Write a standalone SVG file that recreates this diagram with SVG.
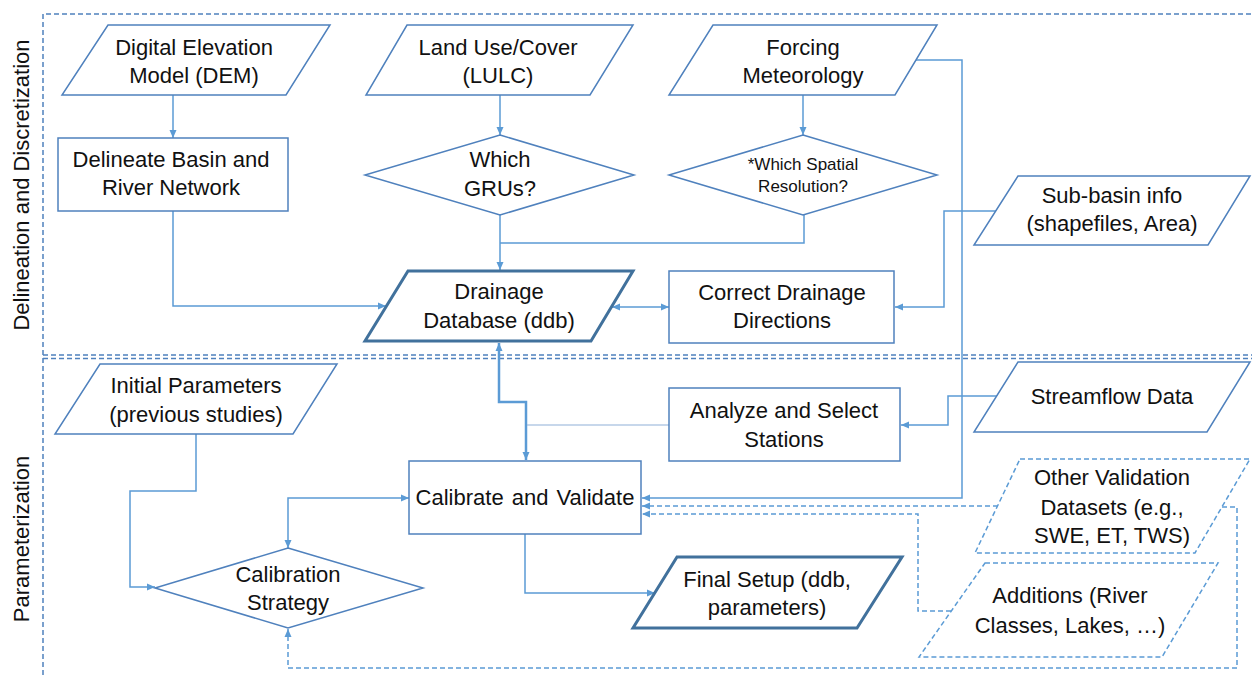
<svg xmlns="http://www.w3.org/2000/svg" width="1252" height="675" viewBox="0 0 1252 675">
<defs>
<style>
.t{font-family:"Liberation Sans",Arial,sans-serif;font-size:22px;fill:#111;text-anchor:middle}
.s{font-size:17px}
.lbl{font-family:"Liberation Sans",Arial,sans-serif;font-size:22px;fill:#111;text-anchor:middle}
.n{fill:#fff;stroke:#4F81BD;stroke-width:1.5}
.nt{fill:#fff;stroke:#41719C;stroke-width:3}
.nd{fill:#fff;stroke:#5B9BD5;stroke-width:1.5;stroke-dasharray:5 3}
.frame{fill:none;stroke:#4F81BD;stroke-width:1.5;stroke-dasharray:5 3}
.c{fill:none;stroke:#5B9BD5;stroke-width:1.5}
.ck{fill:none;stroke:#5B9BD5;stroke-width:2.5}
.cl{fill:none;stroke:#8FAFD8;stroke-width:1.2}
.cd{fill:none;stroke:#5B9BD5;stroke-width:1.5;stroke-dasharray:5 3}
</style>
<marker id="a" markerUnits="userSpaceOnUse" markerWidth="9" markerHeight="8" refX="8" refY="4" orient="auto-start-reverse"><path d="M0,0.5 L8,4 L0,7.5 z" fill="#5B9BD5"/></marker>
</defs>
<g id="frame">
<path class="frame" d="M43,675 V14 H1252"/>
<path class="frame" d="M43,355 H1252 M43,358.5 H1252"/>
<text class="lbl" transform="translate(29,185) rotate(-90)">Delineation and Discretization</text>
<text class="lbl" transform="translate(29,539) rotate(-90)">Parameterization</text>
</g>
<g id="connectors">
<path class="c" d="M173,95 V138" marker-end="url(#a)"/>
<path class="c" d="M500,95 V135" marker-end="url(#a)"/>
<path class="c" d="M803,95 V135" marker-end="url(#a)"/>
<path class="c" d="M500,215 V270" marker-end="url(#a)"/>
<path class="c" d="M804,215 V243 H500"/>
<path class="c" d="M173,211 V306 H386" marker-end="url(#a)"/>
<path class="c" d="M612,307 H669" stroke-width="1.2" marker-start="url(#a)" marker-end="url(#a)"/>
<path class="c" d="M996,211 H944 V307 H895" marker-end="url(#a)"/>
<path class="c" d="M916,60 H962 V498 H642" marker-end="url(#a)"/>
<path class="ck" d="M499,343 V402 H526 V460" marker-start="url(#a)" marker-end="url(#a)"/>
<path class="cl" d="M669,425 H527"/>
<path class="c" d="M997,396 H948 V425 H901" marker-end="url(#a)"/>
<path class="c" d="M196,434 V491 H130 V587 H155" marker-end="url(#a)"/>
<path class="c" d="M409,498 H288 V548" marker-start="url(#a)" marker-end="url(#a)"/>
<path class="c" d="M525,534 V593 H655" marker-end="url(#a)"/>
<path class="cd" d="M998,506 H642" marker-end="url(#a)"/>
<path class="cd" d="M951,611 H918 V514 H642" marker-end="url(#a)"/>
<path class="cd" d="M1222,507 H1237 V668 H288 V629" marker-end="url(#a)"/>
</g>
<g id="dem">
<polygon class="n" points="108,25 330,25 286,95 62,95"/>
<text class="t" x="194" y="55">Digital Elevation</text>
<text class="t" x="194" y="83">Model (DEM)</text>
</g>
<g id="lulc">
<polygon class="n" points="407,25 633,25 590,95 366,95"/>
<text class="t" x="498" y="55">Land Use/Cover</text>
<text class="t" x="498" y="83">(LULC)</text>
</g>
<g id="forcing">
<polygon class="n" points="713,25 937,25 895,95 669,95"/>
<text class="t" x="803" y="55">Forcing</text>
<text class="t" x="803" y="83">Meteorology</text>
</g>
<g id="delineate">
<rect class="n" x="58" y="138" width="230" height="73"/>
<text class="t" x="171" y="167">Delineate Basin and</text>
<text class="t" x="171" y="195">River Network</text>
</g>
<g id="grus">
<polygon class="n" points="500,135 634,175 500,215 365,175"/>
<text class="t" x="500" y="167">Which</text>
<text class="t" x="500" y="196">GRUs?</text>
</g>
<g id="resolution">
<polygon class="n" points="803,135 937,175 803,215 669,175"/>
<text class="t s" x="803" y="170">*Which Spatial</text>
<text class="t s" x="803" y="192">Resolution?</text>
</g>
<g id="subbasin">
<polygon class="n" points="1018,176 1250,176 1208,245 974,245"/>
<text class="t" x="1112" y="203">Sub-basin info</text>
<text class="t" x="1112" y="231">(shapefiles, Area)</text>
</g>
<g id="ddb">
<polygon class="nt" points="408,271 633,271 591,341 365,341"/>
<text class="t" x="499" y="299">Drainage</text>
<text class="t" x="499" y="328">Database (ddb)</text>
</g>
<g id="correct">
<rect class="n" x="669" y="271" width="225" height="72"/>
<text class="t" x="782" y="300">Correct Drainage</text>
<text class="t" x="782" y="328">Directions</text>
</g>
<g id="initial">
<polygon class="n" points="100,364 337,364 293,434 55,434"/>
<text class="t" x="196" y="393">Initial Parameters</text>
<text class="t" x="196" y="422">(previous studies)</text>
</g>
<g id="analyze">
<rect class="n" x="669" y="388" width="231" height="73"/>
<text class="t" x="784" y="418">Analyze and Select</text>
<text class="t" x="784" y="447">Stations</text>
</g>
<g id="streamflow">
<polygon class="n" points="1018,362 1250,362 1207,432 974,432"/>
<text class="t" x="1112" y="404">Streamflow Data</text>
</g>
<g id="calibrate">
<rect class="n" x="409" y="461" width="232" height="73"/>
<text class="t" x="525" y="505" word-spacing="2">Calibrate and Validate</text>
</g>
<g id="strategy">
<polygon class="n" points="288,548 423,588 288,628 155,588"/>
<text class="t" x="288" y="582">Calibration</text>
<text class="t" x="288" y="610">Strategy</text>
</g>
<g id="final">
<polygon class="nt" points="677,557 902,557 857,628 633,628"/>
<text class="t" x="767" y="587">Final Setup (ddb,</text>
<text class="t" x="767" y="615">parameters)</text>
</g>
<g id="other">
<polygon class="nd" points="1020,459 1250,459 1195,553 975,553"/>
<text class="t" x="1112" y="485">Other Validation</text>
<text class="t" x="1112" y="515">Datasets (e.g.,</text>
<text class="t" x="1112" y="543">SWE, ET, TWS)</text>
</g>
<g id="additions">
<polygon class="nd" points="985,563 1218,563 1162,657 919,657"/>
<text class="t" x="1070" y="603">Additions (River</text>
<text class="t" x="1070" y="633">Classes, Lakes, …)</text>
</g>
</svg>
